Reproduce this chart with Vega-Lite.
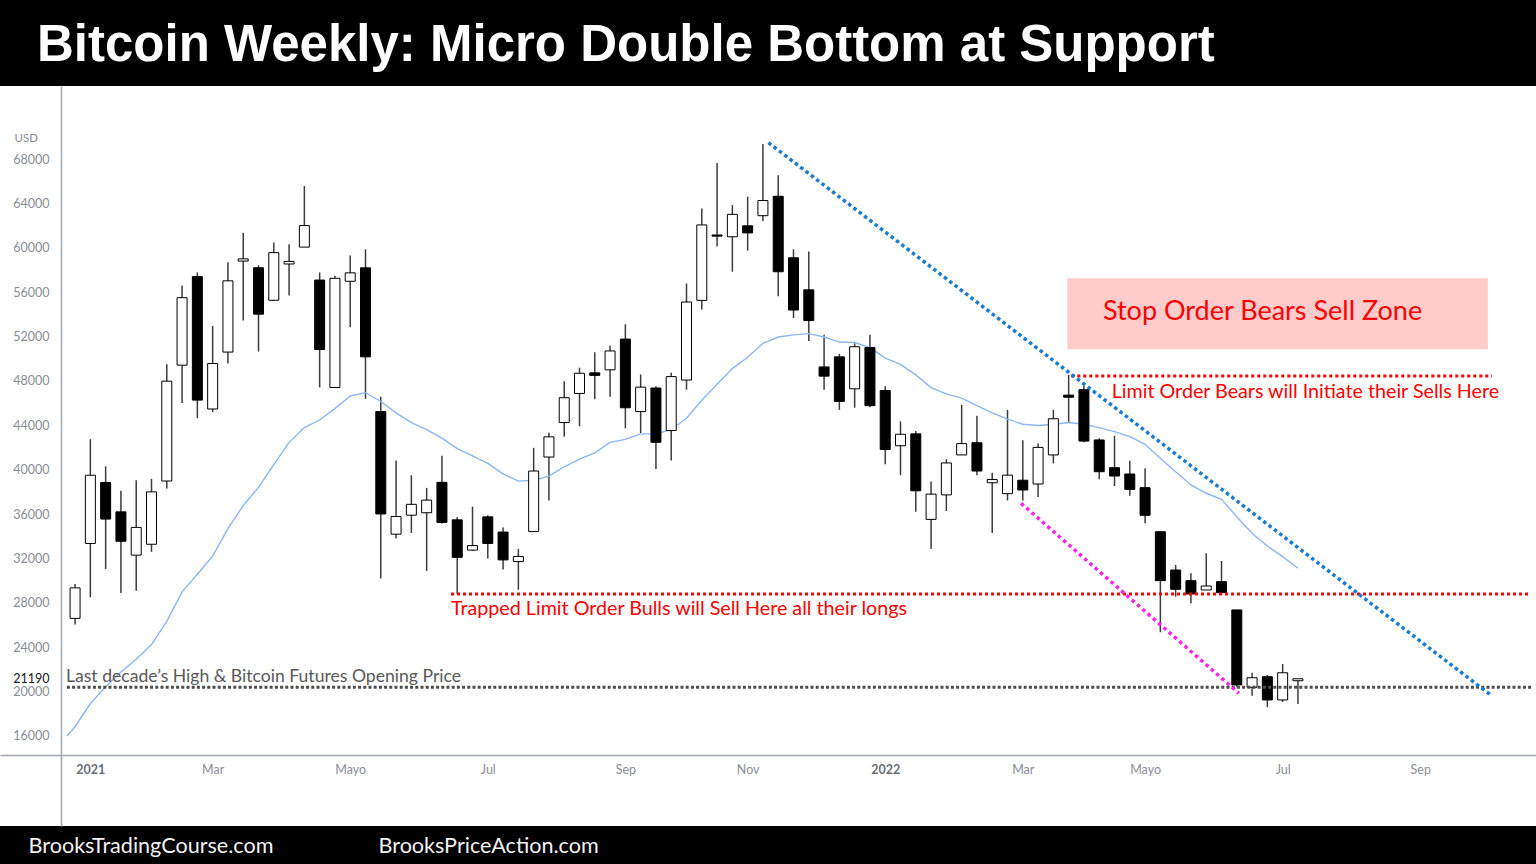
{
  "$schema": "https://vega.github.io/schema/vega-lite/v6.json",
  "width": 1536,
  "height": 740,
  "autosize": {"type": "none"},
  "padding": {"left": 0, "top": 86, "right": 0, "bottom": 38},
  "background": "#000000",
  "config": {
    "view": {"fill": "#ffffff", "stroke": null},
    "axis": {"grid": false, "ticks": false},
    "font": "Lato"
  },
  "title": {
    "text": "Bitcoin Weekly: Micro Double Bottom at Support",
    "anchor": "start",
    "frame": "group",
    "font": "Liberation Sans",
    "fontSize": 51,
    "fontWeight": "bold",
    "color": "#ffffff",
    "dx": 37,
    "offset": 14
  },
  "datasets": {
    "candles": [
      {"date":"2020-12-28","open":26600,"high":29700,"low":26050,"close":29350},
      {"date":"2021-01-04","open":33350,"high":42750,"low":28500,"close":39500},
      {"date":"2021-01-11","open":38850,"high":40300,"low":31050,"close":35550},
      {"date":"2021-01-18","open":36200,"high":38100,"low":28880,"close":33550},
      {"date":"2021-01-25","open":32300,"high":39050,"low":29100,"close":34800},
      {"date":"2021-02-01","open":33280,"high":39170,"low":32600,"close":38000},
      {"date":"2021-02-08","open":38980,"high":49500,"low":38300,"close":47980},
      {"date":"2021-02-15","open":49420,"high":56600,"low":46000,"close":55500},
      {"date":"2021-02-22","open":57400,"high":57780,"low":44640,"close":46270},
      {"date":"2021-03-01","open":45470,"high":52950,"low":45200,"close":49570},
      {"date":"2021-03-08","open":50600,"high":58690,"low":49570,"close":57020},
      {"date":"2021-03-15","open":58800,"high":61350,"low":53450,"close":59000},
      {"date":"2021-03-22","open":58200,"high":58420,"low":50640,"close":54020},
      {"date":"2021-03-29","open":55270,"high":60480,"low":55200,"close":59560},
      {"date":"2021-04-05","open":58540,"high":60320,"low":55690,"close":58770},
      {"date":"2021-04-12","open":60060,"high":65560,"low":60060,"close":62000},
      {"date":"2021-04-19","open":57090,"high":57780,"low":47410,"close":50830},
      {"date":"2021-04-26","open":47410,"high":57470,"low":47410,"close":57250},
      {"date":"2021-05-03","open":56980,"high":59300,"low":52840,"close":57740},
      {"date":"2021-05-10","open":58190,"high":59860,"low":46380,"close":50170},
      {"date":"2021-05-17","open":45240,"high":46570,"low":30200,"close":36010},
      {"date":"2021-05-24","open":34190,"high":40830,"low":33810,"close":35780},
      {"date":"2021-05-31","open":35900,"high":39500,"low":34300,"close":36880},
      {"date":"2021-06-07","open":36120,"high":38360,"low":30880,"close":37260},
      {"date":"2021-06-14","open":38860,"high":41250,"low":35140,"close":35250},
      {"date":"2021-06-21","open":35480,"high":35710,"low":28800,"close":32100},
      {"date":"2021-06-28","open":32750,"high":36660,"low":32670,"close":33160},
      {"date":"2021-07-05","open":35750,"high":35900,"low":31990,"close":33350},
      {"date":"2021-07-12","open":34380,"high":34800,"low":31000,"close":31870},
      {"date":"2021-07-19","open":31720,"high":32860,"low":29180,"close":32180},
      {"date":"2021-07-26","open":34420,"high":41970,"low":34420,"close":39880},
      {"date":"2021-08-02","open":41140,"high":43340,"low":37230,"close":42960},
      {"date":"2021-08-09","open":44250,"high":47970,"low":42960,"close":46490},
      {"date":"2021-08-16","open":46870,"high":49190,"low":43910,"close":48690},
      {"date":"2021-08-23","open":48730,"high":50590,"low":46340,"close":48500},
      {"date":"2021-08-30","open":49000,"high":51200,"low":46570,"close":50700},
      {"date":"2021-09-06","open":51770,"high":53100,"low":43720,"close":45580},
      {"date":"2021-09-13","open":45240,"high":48580,"low":43300,"close":47440},
      {"date":"2021-09-20","open":47360,"high":47520,"low":40070,"close":42470},
      {"date":"2021-09-27","open":43530,"high":48730,"low":40830,"close":48390},
      {"date":"2021-10-04","open":48080,"high":56780,"low":47210,"close":55110},
      {"date":"2021-10-11","open":55260,"high":63540,"low":54430,"close":62060},
      {"date":"2021-10-18","open":61150,"high":67640,"low":60120,"close":61050},
      {"date":"2021-10-25","open":60990,"high":63840,"low":57840,"close":63010},
      {"date":"2021-11-01","open":61980,"high":64600,"low":59740,"close":61340},
      {"date":"2021-11-08","open":62890,"high":69350,"low":62400,"close":64260},
      {"date":"2021-11-15","open":64640,"high":66540,"low":55640,"close":57840},
      {"date":"2021-11-22","open":59100,"high":59860,"low":53670,"close":54390},
      {"date":"2021-11-29","open":56210,"high":59670,"low":51590,"close":53440},
      {"date":"2021-12-06","open":49260,"high":52160,"low":47210,"close":48430},
      {"date":"2021-12-13","open":50170,"high":50440,"low":45390,"close":46150},
      {"date":"2021-12-20","open":47290,"high":51390,"low":45580,"close":51080},
      {"date":"2021-12-27","open":51010,"high":52160,"low":45620,"close":45770},
      {"date":"2022-01-03","open":47140,"high":47520,"low":40490,"close":41820},
      {"date":"2022-01-10","open":42160,"high":44360,"low":39500,"close":43190},
      {"date":"2022-01-17","open":43230,"high":43490,"low":36200,"close":38100},
      {"date":"2022-01-24","open":35520,"high":38940,"low":32860,"close":37800},
      {"date":"2022-01-31","open":37730,"high":40950,"low":36280,"close":40610},
      {"date":"2022-02-07","open":41330,"high":45840,"low":41330,"close":42350},
      {"date":"2022-02-14","open":42430,"high":44860,"low":39500,"close":39880},
      {"date":"2022-02-21","open":38820,"high":39730,"low":34300,"close":39120},
      {"date":"2022-02-28","open":37840,"high":45390,"low":37230,"close":39510},
      {"date":"2022-03-07","open":39050,"high":42660,"low":37230,"close":38170},
      {"date":"2022-03-14","open":38710,"high":42350,"low":37540,"close":42010},
      {"date":"2022-03-21","open":41330,"high":45390,"low":40570,"close":44590},
      {"date":"2022-03-28","open":46720,"high":48540,"low":44250,"close":46530},
      {"date":"2022-04-04","open":47210,"high":47590,"low":42470,"close":42580},
      {"date":"2022-04-11","open":42680,"high":42830,"low":39140,"close":39820},
      {"date":"2022-04-18","open":40180,"high":43040,"low":38530,"close":39430},
      {"date":"2022-04-25","open":39610,"high":40810,"low":37660,"close":38230},
      {"date":"2022-05-02","open":38380,"high":40130,"low":35170,"close":35890},
      {"date":"2022-05-09","open":34410,"high":34410,"low":25350,"close":30000},
      {"date":"2022-05-16","open":30960,"high":31410,"low":28560,"close":29220},
      {"date":"2022-05-23","open":30000,"high":30660,"low":27960,"close":28800},
      {"date":"2022-05-30","open":29160,"high":32470,"low":29160,"close":29520},
      {"date":"2022-06-06","open":29910,"high":31770,"low":28860,"close":28920},
      {"date":"2022-06-13","open":27360,"high":27360,"low":20440,"close":20600},
      {"date":"2022-06-20","open":20390,"high":21700,"low":19630,"close":21250},
      {"date":"2022-06-27","open":21340,"high":21500,"low":18590,"close":19250},
      {"date":"2022-07-04","open":19250,"high":22490,"low":19060,"close":21700},
      {"date":"2022-07-11","open":20980,"high":21160,"low":18880,"close":21160}
    ],
    "ma": [
      {"date":"2020-12-24T06:00:00Z","value":16000},
      {"date":"2020-12-28","value":16835},
      {"date":"2021-01-04","value":18924},
      {"date":"2021-01-11","value":20442},
      {"date":"2021-01-18","value":21771},
      {"date":"2021-01-25","value":22911},
      {"date":"2021-02-01","value":24240},
      {"date":"2021-02-08","value":26328},
      {"date":"2021-02-15","value":28986},
      {"date":"2021-02-22","value":30580},
      {"date":"2021-03-01","value":32213},
      {"date":"2021-03-08","value":34681},
      {"date":"2021-03-15","value":36770},
      {"date":"2021-03-22","value":38402},
      {"date":"2021-03-29","value":40453},
      {"date":"2021-04-05","value":42465},
      {"date":"2021-04-12","value":43794},
      {"date":"2021-04-19","value":44478},
      {"date":"2021-04-26","value":45503},
      {"date":"2021-05-03","value":46642},
      {"date":"2021-05-10","value":46946},
      {"date":"2021-05-17","value":46149},
      {"date":"2021-05-24","value":45123},
      {"date":"2021-05-31","value":44249},
      {"date":"2021-06-07","value":43604},
      {"date":"2021-06-14","value":42845},
      {"date":"2021-06-21","value":41896},
      {"date":"2021-06-28","value":41250},
      {"date":"2021-07-05","value":40567},
      {"date":"2021-07-12","value":39617},
      {"date":"2021-07-19","value":38972},
      {"date":"2021-07-26","value":39048},
      {"date":"2021-08-02","value":39427},
      {"date":"2021-08-09","value":40263},
      {"date":"2021-08-16","value":40946},
      {"date":"2021-08-23","value":41516},
      {"date":"2021-08-30","value":42465},
      {"date":"2021-09-06","value":42731},
      {"date":"2021-09-13","value":43225},
      {"date":"2021-09-20","value":43225},
      {"date":"2021-09-27","value":43604},
      {"date":"2021-10-04","value":44630},
      {"date":"2021-10-11","value":46263},
      {"date":"2021-10-18","value":47706},
      {"date":"2021-10-25","value":49111},
      {"date":"2021-11-01","value":50136},
      {"date":"2021-11-08","value":51389},
      {"date":"2021-11-15","value":51958},
      {"date":"2021-11-22","value":52148},
      {"date":"2021-11-29","value":52262},
      {"date":"2021-12-06","value":51958},
      {"date":"2021-12-13","value":51503},
      {"date":"2021-12-20","value":51465},
      {"date":"2021-12-27","value":51009},
      {"date":"2022-01-03","value":50059},
      {"date":"2022-01-10","value":49490},
      {"date":"2022-01-17","value":48541},
      {"date":"2022-01-24","value":47401},
      {"date":"2022-01-31","value":46832},
      {"date":"2022-02-07","value":46452},
      {"date":"2022-02-14","value":45769},
      {"date":"2022-02-21","value":45123},
      {"date":"2022-02-28","value":44553},
      {"date":"2022-03-07","value":44098},
      {"date":"2022-03-14","value":43984},
      {"date":"2022-03-21","value":44098},
      {"date":"2022-03-28","value":44250},
      {"date":"2022-04-04","value":44098},
      {"date":"2022-04-11","value":43787},
      {"date":"2022-04-18","value":43427},
      {"date":"2022-04-25","value":42976},
      {"date":"2022-05-02","value":42291},
      {"date":"2022-05-09","value":41029},
      {"date":"2022-05-16","value":39822},
      {"date":"2022-05-23","value":38623},
      {"date":"2022-05-30","value":37875},
      {"date":"2022-06-06","value":37334},
      {"date":"2022-06-13","value":35766},
      {"date":"2022-06-20","value":34269},
      {"date":"2022-06-27","value":33125},
      {"date":"2022-07-04","value":32160},
      {"date":"2022-07-11","value":31115}
    ],
    "lines": [
      {"id":"blue","date":"2021-11-10T12:00:00Z","price":69474},
      {"id":"blue","date":"2022-10-07T21:00:00Z","price":19605},
      {"id":"magenta","date":"2022-03-06T05:00:00Z","price":36973},
      {"id":"magenta","date":"2022-06-14T00:00:00Z","price":19850},
      {"id":"red1","date":"2021-06-18T04:00:00Z","price":28800},
      {"id":"red1","date":"2022-10-25T17:30:00Z","price":28800},
      {"id":"red2","date":"2022-03-29T05:00:00Z","price":48450},
      {"id":"red2","date":"2022-10-07T21:00:00Z","price":48450},
      {"id":"gray","date":"2020-12-24T06:00:00Z","price":20390},
      {"id":"gray","date":"2022-10-25T17:30:00Z","price":20390}
    ],
    "zone": [
      {"date":"2022-03-27T10:00:00Z","date2":"2022-10-06T00:00:00Z","price":57250,"price2":50850}
    ],
    "notes": [
      {"kind":"zone","text":"Stop Order Bears Sell Zone","date":"2022-04-12T17:00:00Z","price":54240},
      {"kind":"red","text":"Limit Order Bears will Initiate their Sells Here","date":"2022-04-16T17:00:00Z","price":47030},
      {"kind":"red","text":"Trapped Limit Order Bulls will Sell Here all their longs","date":"2021-06-18T04:00:00Z","price":27480},
      {"kind":"gray","text":"Last decade’s High & Bitcoin Futures Opening Price","date":"2020-12-23T20:00:00Z","price":21290}
    ]
  },
  "encoding": {
    "x": {
      "field": "date",
      "type": "temporal",
      "scale": {
        "type": "utc",
        "nice": false,
        "domain": [
          {"year": 2020, "month": 11, "date": 25, "hours": 21, "minutes": 50, "utc": true},
          {"year": 2022, "month": 10, "date": 25, "hours": 17, "minutes": 30, "utc": true}
        ]
      },
      "axis": {
        "orient": "bottom",
        "offset": -71,
        "values": [
          {"year": 2021, "month": 1, "date": 4, "utc": true},
          {"year": 2021, "month": 3, "date": 1, "utc": true},
          {"year": 2021, "month": 5, "date": 3, "utc": true},
          {"year": 2021, "month": 7, "date": 5, "utc": true},
          {"year": 2021, "month": 9, "date": 6, "utc": true},
          {"year": 2021, "month": 11, "date": 1, "utc": true},
          {"year": 2022, "month": 1, "date": 3, "utc": true},
          {"year": 2022, "month": 3, "date": 7, "utc": true},
          {"year": 2022, "month": 5, "date": 2, "utc": true},
          {"year": 2022, "month": 7, "date": 4, "utc": true},
          {"year": 2022, "month": 9, "date": 5, "utc": true}
        ],
        "labelExpr": "utcmonth(datum.value) == 0 ? utcFormat(datum.value, '%Y') : (utcmonth(datum.value) == 4 ? 'Mayo' : utcFormat(datum.value, '%b'))",
        "labelFontWeight": {"condition": {"test": "utcmonth(datum.value) == 0", "value": "bold"}, "value": "normal"},
        "labelColor": {"condition": {"test": "utcmonth(datum.value) == 0", "value": "#6a6d78"}, "value": "#8a8d96"},
        "labelFont": "Lato",
        "labelFontSize": 12.5,
        "labelPadding": 8,
        "labelOverlap": false,
        "domainColor": "#a3a6ad",
        "domainWidth": 1.5,
        "ticks": false,
        "grid": false,
        "title": "BrooksTradingCourse.com\u00a0\u00a0\u00a0\u00a0\u00a0\u00a0\u00a0\u00a0\u00a0\u00a0\u00a0\u00a0\u00a0\u00a0\u00a0\u00a0\u00a0\u00a0\u00a0BrooksPriceAction.com",
        "titleColor": "#f2f2f2",
        "titleFont": "Lato",
        "titleFontSize": 21.6,
        "titleFontWeight": "normal",
        "titleX": 28,
        "titleY": 91,
        "titleAlign": "left",
        "titleAnchor": "start",
        "titleBaseline": "middle"
      }
    }
  },
  "layer": [
    {
      "data": {"name": "zone"},
      "mark": {"type": "rect", "color": "#ffcccc"},
      "encoding": {
        "x2": {"field": "date2"},
        "y": {"field": "price", "type": "quantitative", "scale": {"domain": [7889, 74579], "nice": false, "zero": false}},
        "y2": {"field": "price2"}
      }
    },
    {
      "data": {"name": "candles"},
      "mark": {"type": "rule", "color": "#3c3c3c", "strokeWidth": 1.5},
      "encoding": {
        "y": {
          "field": "low",
          "type": "quantitative",
          "scale": {"domain": [7889, 74579], "nice": false, "zero": false},
          "axis": {
            "orient": "left",
            "offset": -61,
            "values": [16000, 20000, 21190, 24000, 28000, 32000, 36000, 40000, 44000, 48000, 52000, 56000, 60000, 64000, 68000],
            "format": "d",
            "labelOverlap": false,
            "labelFont": "Lato",
            "labelFontSize": 12.5,
            "labelPadding": 12,
            "labelColor": {"condition": {"test": "datum.value == 21190", "value": "#131722"}, "value": "#8a8d96"},
            "domainColor": "#a3a6ad",
            "domainWidth": 1.5,
            "ticks": false,
            "grid": false,
            "title": "USD",
            "titleAngle": 0,
            "titleAlign": "left",
            "titleBaseline": "middle",
            "titleX": -47,
            "titleY": 52,
            "titleFont": "Lato",
            "titleFontSize": 11.5,
            "titleFontWeight": "normal",
            "titleColor": "#8a8d96"
          }
        },
        "y2": {"field": "high"}
      }
    },
    {
      "data": {"name": "ma"},
      "mark": {"type": "line", "color": "#8ab6f2", "strokeWidth": 1.4},
      "encoding": {
        "y": {"field": "value", "type": "quantitative", "scale": {"domain": [7889, 74579], "nice": false, "zero": false}}
      }
    },
    {
      "data": {"name": "candles"},
      "mark": {"type": "bar", "size": 10, "stroke": "#000000", "strokeWidth": 1},
      "encoding": {
        "y": {"field": "open", "type": "quantitative", "scale": {"domain": [7889, 74579], "nice": false, "zero": false}},
        "y2": {"field": "close"},
        "fill": {"condition": {"test": "datum.close >= datum.open", "value": "#ffffff"}, "value": "#000000"}
      }
    },
    {
      "data": {"name": "lines"},
      "transform": [{"filter": "datum.id == 'gray'"}],
      "mark": {"type": "line", "color": "#4d4d4d", "strokeWidth": 3, "strokeDash": [3, 2.2]},
      "encoding": {
        "y": {"field": "price", "type": "quantitative", "scale": {"domain": [7889, 74579], "nice": false, "zero": false}},
        "detail": {"field": "id"}
      }
    },
    {
      "data": {"name": "lines"},
      "transform": [{"filter": "datum.id == 'red1' || datum.id == 'red2'"}],
      "mark": {"type": "line", "color": "#ff0000", "strokeWidth": 3, "strokeDash": [3, 3]},
      "encoding": {
        "y": {"field": "price", "type": "quantitative", "scale": {"domain": [7889, 74579], "nice": false, "zero": false}},
        "detail": {"field": "id"}
      }
    },
    {
      "data": {"name": "lines"},
      "transform": [{"filter": "datum.id == 'blue'"}],
      "mark": {"type": "line", "color": "#1a7ccf", "strokeWidth": 3.5, "strokeDash": [3.5, 3.2]},
      "encoding": {
        "y": {"field": "price", "type": "quantitative", "scale": {"domain": [7889, 74579], "nice": false, "zero": false}}
      }
    },
    {
      "data": {"name": "lines"},
      "transform": [{"filter": "datum.id == 'magenta'"}],
      "mark": {"type": "line", "color": "#ff22ee", "strokeWidth": 3.5, "strokeDash": [3.5, 3.5]},
      "encoding": {
        "y": {"field": "price", "type": "quantitative", "scale": {"domain": [7889, 74579], "nice": false, "zero": false}}
      }
    },
    {
      "data": {"name": "notes"},
      "transform": [{"filter": "datum.kind == 'zone'"}],
      "mark": {"type": "text", "align": "left", "baseline": "middle", "font": "Lato", "fontSize": 27, "color": "#ff0000"},
      "encoding": {
        "y": {"field": "price", "type": "quantitative", "scale": {"domain": [7889, 74579], "nice": false, "zero": false}},
        "text": {"field": "text"}
      }
    },
    {
      "data": {"name": "notes"},
      "transform": [{"filter": "datum.kind == 'red'"}],
      "mark": {"type": "text", "align": "left", "baseline": "middle", "font": "Lato", "fontSize": 19.7, "color": "#ff0000"},
      "encoding": {
        "y": {"field": "price", "type": "quantitative", "scale": {"domain": [7889, 74579], "nice": false, "zero": false}},
        "text": {"field": "text"}
      }
    },
    {
      "data": {"name": "notes"},
      "transform": [{"filter": "datum.kind == 'gray'"}],
      "mark": {"type": "text", "align": "left", "baseline": "middle", "font": "Lato", "fontSize": 17.6, "color": "#595959"},
      "encoding": {
        "y": {"field": "price", "type": "quantitative", "scale": {"domain": [7889, 74579], "nice": false, "zero": false}},
        "text": {"field": "text"}
      }
    }
  ]
}
